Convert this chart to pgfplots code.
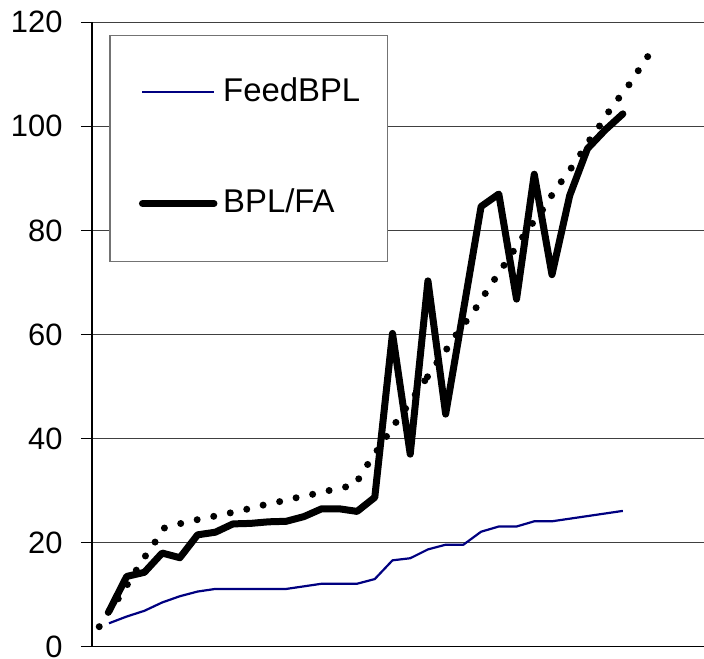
\documentclass[border=0pt]{standalone}
\usepackage{fontspec}
\setmainfont{Liberation Sans}
\usepackage{pgfplots}
\pgfplotsset{compat=1.18}
\definecolor{navyblue}{RGB}{0,0,128}
\begin{document}
\begin{tikzpicture}
\begin{axis}[
  scale only axis,
  width=612bp, height=624.4bp,
  xmin=-0.959, xmax=33.58,
  ymin=0, ymax=120,
  ytick={0,20,40,60,80,100,120},
  xtick=\empty,
  axis lines=left,
  axis line style={-, line width=1.3bp, black},
  ymajorgrids,
  major grid style={line width=1.2bp, black!75},
  tick align=outside,
  major tick length=11bp,
  tick style={line width=1.2bp, black},
  /pgf/number format/assume math mode=true,
  ticklabel style={font=\fontsize{31}{31}\selectfont},
  yticklabel style={inner xsep=0pt, xshift=-18.3bp},
  legend cell align=left,
  legend style={
    at={(axis description cs:0.0283,0.9797)}, anchor=north west,
    draw=black!55, line width=1.3bp,
    inner xsep=0pt, inner ysep=0pt,
    column sep=5.7bp, row sep=-2.5bp,
    font=\fontsize{33}{33}\selectfont,
    nodes={anchor=base west, inner sep=0pt, text width=164.3bp, align=left,
           text height=65.7bp, text depth=48.4bp},
  },
  legend image code/.code={\path (0bp,0bp); \draw[#1] (29bp,9.4bp) -- (100.5bp,9.4bp);},
]
% FeedBPL
\addplot[navyblue, line width=2.2bp, line join=round] coordinates {
(0,4.5)(1,5.8)(2,6.9)(3,8.5)(4,9.7)(5,10.6)(6,11.1)(7,11.1)(8,11.1)(9,11.1)
(10,11.1)(11,11.6)(12,12.1)(13,12.1)(14,12.1)(15,13.0)(16,16.6)(17,17.0)(18,18.7)(19,19.6)
(20,19.6)(21,22.1)(22,23.1)(23,23.1)(24,24.1)(25,24.1)(26,24.6)(27,25.1)(28,25.6)(29,26.1)
};
\addlegendentry{FeedBPL}
% BPL/FA
\addplot[black, line width=7bp, line join=round, line cap=round] coordinates {
(0,6.8)(1,13.5)(2,14.3)(3,18.0)(4,17.1)(5,21.5)(6,22.0)(7,23.6)(8,23.7)(9,24.0)
(10,24.1)(11,25.0)(12,26.5)(13,26.5)(14,26.0)(15,28.7)(16,60.2)(17,37.0)(18,70.3)(19,44.7)
(20,64.6)(21,84.6)(22,87.0)(23,66.8)(24,90.8)(25,71.5)(26,86.7)(27,95.7)(28,99.3)(29,102.4)
};
\addlegendentry{BPL/FA}
% dotted trend, lower part (drawn from its start)
\addplot[black, line width=7bp, line cap=round, dash pattern=on 0bp off 16.9bp, forget plot] coordinates {
(-0.55,3.85)(-0.04,6.6)(0.52,9.2)(1.03,11.9)(1.52,14.6)(2.07,17.5)(2.60,20.1)(3.12,22.8)
(3.72,23.4)(4.67,24.2)(5.57,24.8)(6.51,25.5)(7.45,26.1)(8.37,27.0)(9.31,27.6)(10.21,28.4)
(11.16,29.0)(12.09,29.8)(13.00,30.4)(13.94,31.2)(14.20,33.0)(14.73,35.7)(15.82,41.2)(16.33,43.8)
(16.89,46.5)(17.96,51.8)
};
% dotted trend, upper part (drawn from its end)
\addplot[black, line width=7bp, line cap=round, dash pattern=on 0bp off 16.9bp, forget plot] coordinates {
(30.40,113.4)(29.87,110.7)(29.31,107.8)(28.74,105.3)(28.18,102.7)(27.67,100.0)(27.11,97.3)
(26.58,94.5)(26.05,91.8)(25.51,89.3)(24.98,86.7)(24.48,84.0)(23.91,81.4)(23.32,78.6)(22.86,76.2)
(22.29,73.3)(21.74,70.5)(21.22,67.8)(20.69,65.0)(20.15,62.5)(19.58,59.9)(19.06,57.2)(18.49,54.5)
(17.96,51.8)
};
\end{axis}
\pgfresetboundingbox
\useasboundingbox (-92bp,-12.3bp) rectangle (612bp,646.7bp);
\end{tikzpicture}
\end{document}
